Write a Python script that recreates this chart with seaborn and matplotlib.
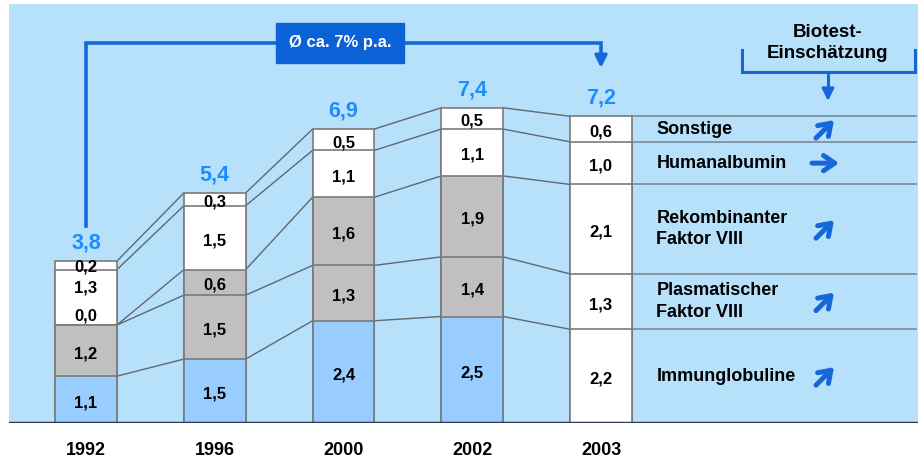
import numpy as np
import pandas as pd
import seaborn as sns
import matplotlib.pyplot as plt

# ==================== Data ====================

YEARS = ['1992', '1996', '2000', '2002', '2003']
SEGMENTS = ['Immunglobuline', 'Plasmatischer\nFaktor VIII', 'Rekombinanter\nFaktor VIII',
            'Humanalbumin', 'Sonstige']

IMMUNGLOBULINE = [1.1, 1.5, 2.4, 2.5, 2.2]
PLASMATISCH = [1.2, 1.5, 1.3, 1.4, 1.3]
REKOMBINANT = [0.0, 0.6, 1.6, 1.9, 2.1]
HUMANALBUMIN = [1.3, 1.5, 1.1, 1.1, 1.0]
SONSTIGE = [0.2, 0.3, 0.5, 0.5, 0.6]
TOTALS = [3.8, 5.4, 6.9, 7.4, 7.2]

# Biotest assessment per segment: 'up' or 'flat'
TREND = ['up', 'up', 'up', 'flat', 'up']

GROWTH_LABEL = 'Ø ca. 7% p.a.'
BIOTEST_LABEL = 'Biotest-\nEinschätzung'

# ==================== Style ====================

BG = '#b7e1fb'
C_BLUE = '#99ccff'
C_GRAY = '#c0c0c0'
C_WHITE = '#ffffff'
EDGE = '#7a7a7a'
ACCENT = '#1668d8'
TOTAL_COLOR = '#1e8cff'
SEG_COLORS = [C_BLUE, C_GRAY, C_GRAY, C_WHITE, C_WHITE]

plt.rcParams['font.family'] = ['Liberation Sans', 'DejaVu Sans']
plt.rcParams['font.weight'] = 'bold'

fig = plt.figure(figsize=(9.23, 4.59), dpi=100)
ax = fig.add_axes([9 / 923, 1 - 423 / 459, 909 / 923, 419 / 459])
ax.set_facecolor(BG)

values = np.array([IMMUNGLOBULINE, PLASMATISCH, REKOMBINANT, HUMANALBUMIN, SONSTIGE])
cum = np.cumsum(values, axis=0)
bottoms = cum - values
BAR_W = 0.48

# draw cumulative bars from the top layer down, so each lower layer sits on top
for k in range(len(SEGMENTS) - 1, -1, -1):
    df = pd.DataFrame({'Year': YEARS, 'Value': cum[k]})
    pal = {y: (SEG_COLORS[k] if y != '2003' else C_WHITE) for y in YEARS}
    sns.barplot(data=df, x='Year', y='Value', hue='Year', palette=pal, legend=False,
                dodge=False, width=BAR_W, edgecolor=EDGE, linewidth=1.2,
                saturation=1, ax=ax, zorder=3)

# connecting lines between neighbouring bars
for i in range(len(YEARS) - 1):
    for k in range(len(SEGMENTS)):
        ax.plot([i + BAR_W / 2, i + 1 - BAR_W / 2], [cum[k, i], cum[k, i + 1]],
                color='#5f6770', lw=1.0, zorder=2)

# lines to the right of the 2003 bar
last = len(YEARS) - 1
for k in range(len(SEGMENTS)):
    ax.plot([last + BAR_W / 2, 6.45], [cum[k, last]] * 2, color='#7d8a96', lw=1.2, zorder=2)

# segment value labels
LABEL_DY = -0.07
SHIFT = {(0, 2): 0.28, (0, 3): 0.29, (0, 4): 0.03}
for i in range(len(YEARS)):
    for k in range(len(SEGMENTS)):
        yc = bottoms[k, i] + values[k, i] / 2 + LABEL_DY + SHIFT.get((i, k), 0)
        ax.text(i, yc, f'{values[k, i]:.1f}'.replace('.', ','), ha='center', va='center',
                fontsize=12, fontweight='bold', color='black', zorder=5)

# totals
for i, t in enumerate(TOTALS):
    ax.text(i, t + 0.42, f'{t:.1f}'.replace('.', ','), ha='center', va='center',
            fontsize=15.5, fontweight='bold', color=TOTAL_COLOR, zorder=5)

# segment names and trend arrows on the right
PX_X = 128.75
PX_Y = 42.6
for k, name in enumerate(SEGMENTS):
    yc = bottoms[k, last] + values[k, last] / 2
    ax.text(4.43, yc, name, ha='left', va='center', fontsize=13, fontweight='bold',
            linespacing=1.35, zorder=5)
    ax0 = 5.74
    if TREND[k] == 'up':
        start = (ax0 - 9 / PX_X, yc - 9 / PX_Y)
        end = (ax0 + 9 / PX_X, yc + 9 / PX_Y)
    else:
        start = (ax0 - 13 / PX_X, yc)
        end = (ax0 + 14 / PX_X, yc)
    ax.annotate('', xy=end, xytext=start,
                arrowprops=dict(arrowstyle='->,head_length=0.8,head_width=0.55',
                                lw=3.6, color=ACCENT, shrinkA=0, shrinkB=0), zorder=5)

# growth bracket
y_br = (423 - 43) / PX_Y
ax.plot([0, 0, last, last], [(423 - 226) / PX_Y, y_br, y_br, (423 - 60) / PX_Y],
        color=ACCENT, lw=2.6, solid_joinstyle='miter', zorder=4)
ax.annotate('', xy=(last, (423 - 68) / PX_Y), xytext=(last, (423 - 56) / PX_Y),
            arrowprops=dict(arrowstyle='-|>,head_length=0.7,head_width=0.35',
                            lw=2.6, color=ACCENT, shrinkA=0, shrinkB=0), zorder=4)
ax.text((340 - 86) / PX_X, y_br, GROWTH_LABEL, ha='center', va='center', fontsize=12,
        fontweight='bold', color='white', zorder=6,
        bbox=dict(boxstyle='square,pad=0.75', fc='#0a62d6', ec='#0a62d6'))

# Biotest bracket
bx0, bx1, bxm = (742 - 86) / PX_X, (915 - 86) / PX_X, (828 - 86) / PX_X
yb_top, yb_bot = (423 - 50) / PX_Y, (423 - 72) / PX_Y
ax.plot([bx0, bx0, bx1, bx1], [yb_top, yb_bot, yb_bot, yb_top], color=ACCENT, lw=2.2,
        solid_joinstyle='miter', zorder=4)
ax.plot([bxm, bxm], [yb_bot, (423 - 90) / PX_Y], color=ACCENT, lw=2.2, zorder=4)
ax.annotate('', xy=(bxm, (423 - 101) / PX_Y), xytext=(bxm, (423 - 88) / PX_Y),
            arrowprops=dict(arrowstyle='-|>,head_length=0.7,head_width=0.35',
                            lw=2.2, color=ACCENT, shrinkA=0, shrinkB=0), zorder=4)
ax.text(bxm, (423 - 43) / PX_Y, BIOTEST_LABEL, ha='center', va='center', fontsize=13.5,
        fontweight='bold', linespacing=1.35, zorder=5)

# axes styling
ax.axhline(0, color='#2d3b57', lw=2.5, zorder=6)
ax.set_xlim(-77 / PX_X, (918 - 86) / PX_X)
ax.set_ylim(0, 419 / PX_Y)
for s in ax.spines.values():
    s.set_visible(False)
ax.set_yticks([])
ax.tick_params(axis='x', length=0, pad=14, labelsize=13)
for lab in ax.get_xticklabels():
    lab.set_fontweight('bold')
ax.set_xlabel('')
ax.set_ylabel('')

fig.savefig('out.png', dpi=100, facecolor='white')
